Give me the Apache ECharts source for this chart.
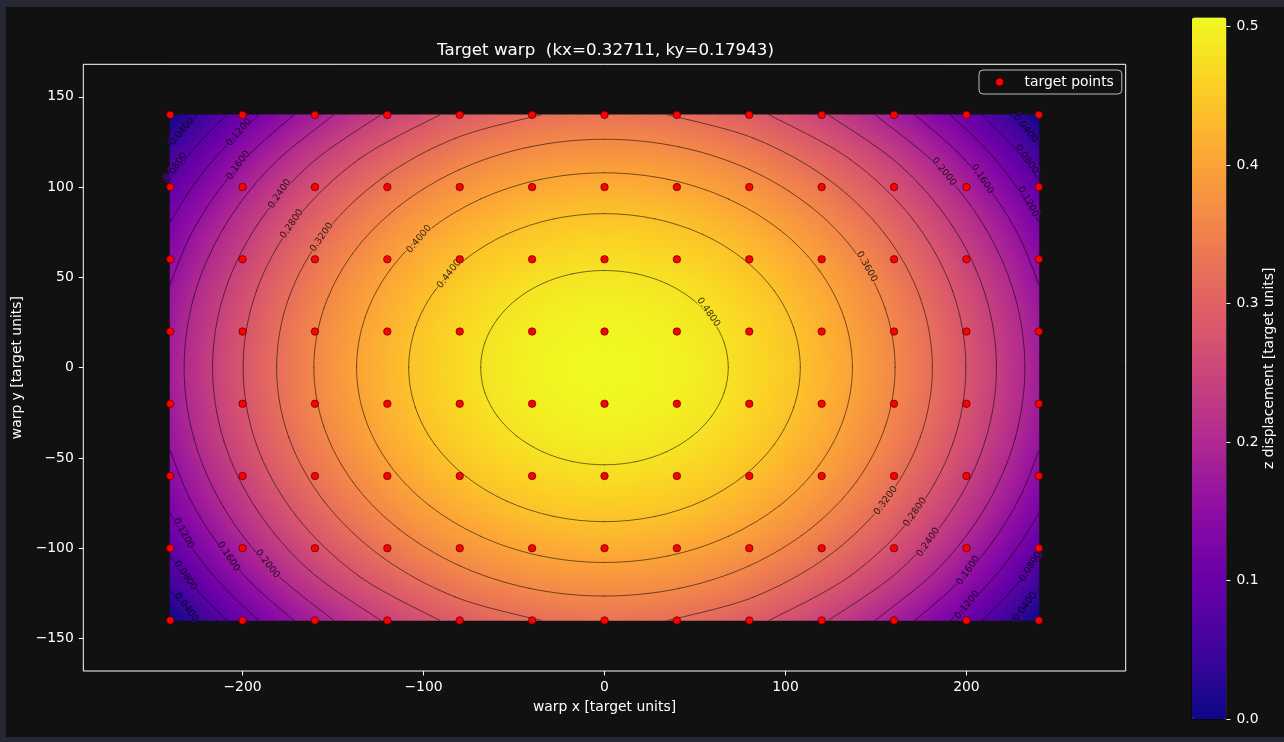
<!DOCTYPE html>
<html><head><meta charset="utf-8">
<script src="https://cdn.jsdelivr.net/npm/echarts@6/dist/echarts.min.js"></script>
<style>
html,body{margin:0;padding:0;background:#262833;width:1284px;height:742px;overflow:hidden}
#fig{position:absolute;left:6px;top:7px;width:1278px;height:730px;background:#111111}
</style></head><body><div id="fig"></div>
<script>
// ---------------- data ----------------
const chartTitle = 'Target warp  (kx=0.32711, ky=0.17943)';
const xAxisName = 'warp x [target units]';
const yAxisName = 'warp y [target units]';
const cbarName = 'z displacement [target units]';
const legendName = 'target points';
const xRange = [-288, 288];
const yRange = [-168, 168];
const zRange = [0, 0.50654];
const xTicks = [-200, -100, 0, 100, 200];
const yTicks = [-150, -100, -50, 0, 50, 100, 150];
const cbarTicks = [0, 0.1, 0.2, 0.3, 0.4, 0.5];

// heat-field cell centres and values (rows top -> bottom)
const xCenters = [-235,-225,-215,-205,-195,-185,-175,-165,-155,-145,-135,-125,-115,-105,-95,-85,-75,-65,-55,-45,-35,-25,-15,-5,5,15,25,35,45,55,65,75,85,95,105,115,125,135,145,155,165,175,185,195,205,215,225,235];
const yCenters = [135,125,115,105,95,85,75,65,55,45,35,25,15,5,-5,-15,-25,-35,-45,-55,-65,-75,-85,-95,-105,-115,-125,-135];
const zGrid = [
[.026,.052,.077,.101,.124,.145,.166,.185,.203,.220,.236,.251,.265,.277,.289,.299,.308,.316,.323,.328,.333,.336,.338,.340,.340,.338,.336,.333,.328,.323,.316,.308,.299,.289,.277,.265,.251,.236,.220,.203,.185,.166,.145,.124,.101,.077,.052,.026],
[.050,.076,.101,.125,.148,.169,.190,.209,.227,.244,.260,.275,.288,.301,.312,.323,.332,.340,.346,.352,.357,.360,.362,.363,.363,.362,.360,.357,.352,.346,.340,.332,.323,.312,.301,.288,.275,.260,.244,.227,.209,.190,.169,.148,.125,.101,.076,.050],
[.072,.098,.123,.147,.170,.191,.212,.231,.249,.266,.282,.297,.310,.323,.334,.345,.354,.362,.368,.374,.379,.382,.384,.385,.385,.384,.382,.379,.374,.368,.362,.354,.345,.334,.323,.310,.297,.282,.266,.249,.231,.212,.191,.170,.147,.123,.098,.072],
[.092,.118,.143,.167,.190,.211,.232,.251,.269,.286,.302,.317,.331,.343,.354,.365,.374,.382,.388,.394,.399,.402,.404,.405,.405,.404,.402,.399,.394,.388,.382,.374,.365,.354,.343,.331,.317,.302,.286,.269,.251,.232,.211,.190,.167,.143,.118,.092],
[.110,.136,.161,.185,.208,.230,.250,.269,.288,.305,.320,.335,.349,.361,.373,.383,.392,.400,.407,.412,.417,.420,.423,.424,.424,.423,.420,.417,.412,.407,.400,.392,.383,.373,.361,.349,.335,.320,.305,.288,.269,.250,.230,.208,.185,.161,.136,.110],
[.127,.153,.178,.202,.225,.246,.267,.286,.304,.321,.337,.352,.365,.378,.389,.399,.409,.416,.423,.429,.434,.437,.439,.440,.440,.439,.437,.434,.429,.423,.416,.409,.399,.389,.378,.365,.352,.337,.321,.304,.286,.267,.246,.225,.202,.178,.153,.127],
[.141,.168,.193,.216,.239,.261,.281,.300,.319,.336,.352,.366,.380,.392,.404,.414,.423,.431,.438,.444,.448,.452,.454,.455,.455,.454,.452,.448,.444,.438,.431,.423,.414,.404,.392,.380,.366,.352,.336,.319,.300,.281,.261,.239,.216,.193,.168,.141],
[.154,.180,.205,.229,.252,.274,.294,.313,.332,.349,.364,.379,.393,.405,.417,.427,.436,.444,.451,.456,.461,.464,.467,.468,.468,.467,.464,.461,.456,.451,.444,.436,.427,.417,.405,.393,.379,.364,.349,.332,.313,.294,.274,.252,.229,.205,.180,.154],
[.165,.191,.216,.240,.263,.285,.305,.324,.342,.359,.375,.390,.404,.416,.428,.438,.447,.455,.462,.467,.472,.475,.478,.479,.479,.478,.475,.472,.467,.462,.455,.447,.438,.428,.416,.404,.390,.375,.359,.342,.324,.305,.285,.263,.240,.216,.191,.165],
[.174,.201,.226,.249,.272,.294,.314,.333,.352,.369,.385,.399,.413,.425,.437,.447,.456,.464,.471,.477,.481,.485,.487,.488,.488,.487,.485,.481,.477,.471,.464,.456,.447,.437,.425,.413,.399,.385,.369,.352,.333,.314,.294,.272,.249,.226,.201,.174],
[.182,.208,.233,.257,.279,.301,.321,.341,.359,.376,.392,.407,.420,.433,.444,.454,.463,.471,.478,.484,.488,.492,.494,.495,.495,.494,.492,.488,.484,.478,.471,.463,.454,.444,.433,.420,.407,.392,.376,.359,.341,.321,.301,.279,.257,.233,.208,.182],
[.187,.213,.238,.262,.285,.307,.327,.346,.364,.381,.397,.412,.426,.438,.450,.460,.469,.477,.484,.489,.494,.497,.500,.501,.501,.500,.497,.494,.489,.484,.477,.469,.460,.450,.438,.426,.412,.397,.381,.364,.346,.327,.307,.285,.262,.238,.213,.187],
[.191,.217,.242,.266,.289,.310,.331,.350,.368,.385,.401,.416,.429,.442,.453,.464,.473,.481,.487,.493,.498,.501,.503,.504,.504,.503,.501,.498,.493,.487,.481,.473,.464,.453,.442,.429,.416,.401,.385,.368,.350,.331,.310,.289,.266,.242,.217,.191],
[.193,.219,.244,.268,.290,.312,.332,.352,.370,.387,.403,.418,.431,.444,.455,.465,.474,.482,.489,.495,.499,.503,.505,.506,.506,.505,.503,.499,.495,.489,.482,.474,.465,.455,.444,.431,.418,.403,.387,.370,.352,.332,.312,.290,.268,.244,.219,.193],
[.193,.219,.244,.268,.290,.312,.332,.352,.370,.387,.403,.418,.431,.444,.455,.465,.474,.482,.489,.495,.499,.503,.505,.506,.506,.505,.503,.499,.495,.489,.482,.474,.465,.455,.444,.431,.418,.403,.387,.370,.352,.332,.312,.290,.268,.244,.219,.193],
[.191,.217,.242,.266,.289,.310,.331,.350,.368,.385,.401,.416,.429,.442,.453,.464,.473,.481,.487,.493,.498,.501,.503,.504,.504,.503,.501,.498,.493,.487,.481,.473,.464,.453,.442,.429,.416,.401,.385,.368,.350,.331,.310,.289,.266,.242,.217,.191],
[.187,.213,.238,.262,.285,.307,.327,.346,.364,.381,.397,.412,.426,.438,.450,.460,.469,.477,.484,.489,.494,.497,.500,.501,.501,.500,.497,.494,.489,.484,.477,.469,.460,.450,.438,.426,.412,.397,.381,.364,.346,.327,.307,.285,.262,.238,.213,.187],
[.182,.208,.233,.257,.279,.301,.321,.341,.359,.376,.392,.407,.420,.433,.444,.454,.463,.471,.478,.484,.488,.492,.494,.495,.495,.494,.492,.488,.484,.478,.471,.463,.454,.444,.433,.420,.407,.392,.376,.359,.341,.321,.301,.279,.257,.233,.208,.182],
[.174,.201,.226,.249,.272,.294,.314,.333,.352,.369,.385,.399,.413,.425,.437,.447,.456,.464,.471,.477,.481,.485,.487,.488,.488,.487,.485,.481,.477,.471,.464,.456,.447,.437,.425,.413,.399,.385,.369,.352,.333,.314,.294,.272,.249,.226,.201,.174],
[.165,.191,.216,.240,.263,.285,.305,.324,.342,.359,.375,.390,.404,.416,.428,.438,.447,.455,.462,.467,.472,.475,.478,.479,.479,.478,.475,.472,.467,.462,.455,.447,.438,.428,.416,.404,.390,.375,.359,.342,.324,.305,.285,.263,.240,.216,.191,.165],
[.154,.180,.205,.229,.252,.274,.294,.313,.332,.349,.364,.379,.393,.405,.417,.427,.436,.444,.451,.456,.461,.464,.467,.468,.468,.467,.464,.461,.456,.451,.444,.436,.427,.417,.405,.393,.379,.364,.349,.332,.313,.294,.274,.252,.229,.205,.180,.154],
[.141,.168,.193,.216,.239,.261,.281,.300,.319,.336,.352,.366,.380,.392,.404,.414,.423,.431,.438,.444,.448,.452,.454,.455,.455,.454,.452,.448,.444,.438,.431,.423,.414,.404,.392,.380,.366,.352,.336,.319,.300,.281,.261,.239,.216,.193,.168,.141],
[.127,.153,.178,.202,.225,.246,.267,.286,.304,.321,.337,.352,.365,.378,.389,.399,.409,.416,.423,.429,.434,.437,.439,.440,.440,.439,.437,.434,.429,.423,.416,.409,.399,.389,.378,.365,.352,.337,.321,.304,.286,.267,.246,.225,.202,.178,.153,.127],
[.110,.136,.161,.185,.208,.230,.250,.269,.288,.305,.320,.335,.349,.361,.373,.383,.392,.400,.407,.412,.417,.420,.423,.424,.424,.423,.420,.417,.412,.407,.400,.392,.383,.373,.361,.349,.335,.320,.305,.288,.269,.250,.230,.208,.185,.161,.136,.110],
[.092,.118,.143,.167,.190,.211,.232,.251,.269,.286,.302,.317,.331,.343,.354,.365,.374,.382,.388,.394,.399,.402,.404,.405,.405,.404,.402,.399,.394,.388,.382,.374,.365,.354,.343,.331,.317,.302,.286,.269,.251,.232,.211,.190,.167,.143,.118,.092],
[.072,.098,.123,.147,.170,.191,.212,.231,.249,.266,.282,.297,.310,.323,.334,.345,.354,.362,.368,.374,.379,.382,.384,.385,.385,.384,.382,.379,.374,.368,.362,.354,.345,.334,.323,.310,.297,.282,.266,.249,.231,.212,.191,.170,.147,.123,.098,.072],
[.050,.076,.101,.125,.148,.169,.190,.209,.227,.244,.260,.275,.288,.301,.312,.323,.332,.340,.346,.352,.357,.360,.362,.363,.363,.362,.360,.357,.352,.346,.340,.332,.323,.312,.301,.288,.275,.260,.244,.227,.209,.190,.169,.148,.125,.101,.076,.050],
[.026,.052,.077,.101,.124,.145,.166,.185,.203,.220,.236,.251,.265,.277,.289,.299,.308,.316,.323,.328,.333,.336,.338,.340,.340,.338,.336,.333,.328,.323,.316,.308,.299,.289,.277,.265,.251,.236,.220,.203,.185,.166,.145,.124,.101,.077,.052,.026]
];

// target points grid
const pointXs = [-240, -200, -160, -120, -80, -40, 0, 40, 80, 120, 160, 200, 240];
const pointYs = [140, 100, 60, 20, -20, -60, -100, -140];

// contour paths (data units), one array of segments per level; closed rings end on their first point
const contour048 = [[[68.4,0],[66.1,13.9],[59.2,26.9],[48.4,38.0],[34.2,46.6],[17.7,52.0],[0,53.8],[-17.7,52.0],[-34.2,46.6],[-48.4,38.0],[-59.2,26.9],[-66.1,13.9],[-68.4,0],[-66.1,-13.9],[-59.2,-26.9],[-48.4,-38.0],[-34.2,-46.6],[-17.7,-52.0],[0,-53.8],[17.7,-52.0],[34.2,-46.6],[48.4,-38.0],[59.2,-26.9],[66.1,-13.9],[68.4,0]]];
const contour044 = [[[108.2,0],[104.5,22.1],[93.7,42.7],[76.5,60.3],[54.1,73.9],[28.0,82.4],[0,85.3],[-28.0,82.4],[-54.1,73.9],[-76.5,60.3],[-93.7,42.7],[-104.5,22.1],[-108.2,0],[-104.5,-22.1],[-93.7,-42.7],[-76.5,-60.3],[-54.1,-73.9],[-28.0,-82.4],[0,-85.3],[28.0,-82.4],[54.1,-73.9],[76.5,-60.3],[93.7,-42.7],[104.5,-22.1],[108.2,0]]];
const contour040 = [[[137.0,0],[132.3,27.9],[118.6,54.0],[96.9,76.3],[68.5,93.4],[35.5,104.2],[0,107.9],[-35.5,104.2],[-68.5,93.4],[-96.9,76.3],[-118.6,54.0],[-132.3,27.9],[-137.0,0],[-132.3,-27.9],[-118.6,-54.0],[-96.9,-76.3],[-68.5,-93.4],[-35.5,-104.2],[0,-107.9],[35.5,-104.2],[68.5,-93.4],[96.9,-76.3],[118.6,-54.0],[132.3,-27.9],[137.0,0]]];
const contour036 = [[[160.6,0],[155.1,32.7],[139.1,63.3],[113.6,89.4],[80.3,109.6],[41.6,122.2],[0,126.5],[-41.6,122.2],[-80.3,109.6],[-113.6,89.4],[-139.1,63.3],[-155.1,32.7],[-160.6,0],[-155.1,-32.7],[-139.1,-63.3],[-113.6,-89.4],[-80.3,-109.6],[-41.6,-122.2],[0,-126.5],[41.6,-122.2],[80.3,-109.6],[113.6,-89.4],[139.1,-63.3],[155.1,-32.7],[160.6,0]]];
const contour032 = [
  [[35.2,-140],[82.3,-127.1],[122.9,-104.9],[154.5,-74.6],[174.4,-38.8],[181.2,0],[174.4,38.8],[154.5,74.6],[122.9,104.9],[82.3,127.1],[35.2,140]],
  [[-35.2,-140],[-82.3,-127.1],[-122.9,-104.9],[-154.5,-74.6],[-174.4,-38.8],[-181.2,0],[-174.4,38.8],[-154.5,74.6],[-122.9,104.9],[-82.3,127.1],[-35.2,140]]];
const contour028 = [
  [[91.0,-140],[135.7,-115.4],[170.5,-82.0],[192.3,-42.6],[199.7,0],[192.3,42.6],[170.5,82.0],[135.7,115.4],[91.0,140]],
  [[-91.0,-140],[-135.7,-115.4],[-170.5,-82.0],[-192.3,-42.6],[-199.7,0],[-192.3,42.6],[-170.5,82.0],[-135.7,115.4],[-91.0,140]]];
const contour024 = [
  [[123.7,-140],[162.7,-112.6],[191.9,-79.0],[210.3,-40.7],[216.6,0],[210.3,40.7],[191.9,79.0],[162.7,112.6],[123.7,140]],
  [[-123.7,-140],[-162.7,-112.6],[-191.9,-79.0],[-210.3,-40.7],[-216.6,0],[-210.3,40.7],[-191.9,79.0],[-162.7,112.6],[-123.7,140]]];
const contour020 = [
  [[149.6,-140],[184.3,-111.4],[210.5,-77.3],[226.8,-39.6],[232.3,0],[226.8,39.6],[210.5,77.3],[184.3,111.4],[149.6,140]],
  [[-149.6,-140],[-184.3,-111.4],[-210.5,-77.3],[-226.8,-39.6],[-232.3,0],[-226.8,39.6],[-210.5,77.3],[-184.3,111.4],[-149.6,140]]];
const contour016 = [
  [[240,46.1],[229.3,72.3],[214.1,97.0],[194.9,119.5],[171.6,140]],
  [[-240,46.1],[-229.3,72.3],[-214.1,97.0],[-194.9,119.5],[-171.6,140]],
  [[-240,-46.1],[-229.3,-72.3],[-214.1,-97.0],[-194.9,-119.5],[-171.6,-140]],
  [[240,-46.1],[229.3,-72.3],[214.1,-97.0],[194.9,-119.5],[171.6,-140]]];
const contour012 = [
  [[240,80.6],[230.2,96.6],[218.8,111.9],[205.7,126.4],[191.0,140]],
  [[-240,80.6],[-230.2,96.6],[-218.8,111.9],[-205.7,126.4],[-191.0,140]],
  [[-240,-80.6],[-230.2,-96.6],[-218.8,-111.9],[-205.7,-126.4],[-191.0,-140]],
  [[240,-80.6],[230.2,-96.6],[218.8,-111.9],[205.7,-126.4],[191.0,-140]]];
const contour008 = [
  [[240,104.3],[225.5,122.8],[208.7,140]],
  [[-240,104.3],[-225.5,122.8],[-208.7,140]],
  [[-240,-104.3],[-225.5,-122.8],[-208.7,-140]],
  [[240,-104.3],[225.5,-122.8],[208.7,-140]]];
const contour004 = [
  [[240,123.4],[232.7,131.7],[224.8,140]],
  [[-240,123.4],[-232.7,131.7],[-224.8,140]],
  [[-240,-123.4],[-232.7,-131.7],[-224.8,-140]],
  [[240,-123.4],[232.7,-131.7],[224.8,-140]]];

// contour label anchors [x, y, text]
const contourLabels = [
  [-233.6,130.7,'0.0400'],[-237.0,111.0,'0.0800'],[-202.0,130.3,'0.1200'],[-202.4,112.1,'0.1600'],
  [-179.5,96.2,'0.2400'],[-172.8,79.6,'0.2800'],[-156.3,72.2,'0.3200'],[-102.5,71.2,'0.4000'],
  [-85.9,51.9,'0.4400'],[57.4,30.7,'0.4800'],[144.9,55.9,'0.3600'],
  [232.7,132.5,'0.0400'],[233.3,115.5,'0.0800'],[234.2,91.9,'0.1200'],[208.8,104.5,'0.1600'],[187.6,108.5,'0.2000'],
  [-232.7,-91.7,'0.1200'],[-231.6,-115.2,'0.0800'],[-231.1,-132.7,'0.0400'],[-207.9,-104.7,'0.1600'],[-186.3,-108.7,'0.2000'],
  [155.4,-73.7,'0.3200'],[171.6,-80.1,'0.2800'],[178.9,-96.7,'0.2400'],[201.0,-112.4,'0.1600'],[200.5,-131.4,'0.1200'],
  [235.5,-110.2,'0.0800'],[232.4,-132.4,'0.0400']
];

// ---------------- styling ----------------
const labelAngles = [51,57,49,54,56,55,55,50,53,-55,-61, -51,-55,-61,-57,-51, -61,-56,-54,-56,-52, 54,55,55,55,51,58,53];
const plasma = ['#0d0887','#41049d','#6a00a8','#8f0da4','#b12a90','#cc4778','#e16462','#f2844b','#fca636','#fcce25','#f0f921'];
const FONT = 'DejaVu Sans';
const TXT = '#ffffff';
const minus = v => String(v).replace('-', '\u2212');

// colour lookup for the shading (same stops as the colour bar)
const plasmaRGB = plasma.map(h => [parseInt(h.slice(1,3),16), parseInt(h.slice(3,5),16), parseInt(h.slice(5,7),16)]);
function cmap(z) {
  let t = (z - zRange[0]) / (zRange[1] - zRange[0]);
  t = Math.max(0, Math.min(1, t)) * (plasmaRGB.length - 1);
  const i = Math.min(plasmaRGB.length - 2, Math.floor(t)), f = t - i;
  const a = plasmaRGB[i], b = plasmaRGB[i + 1];
  return 'rgb(' + [0,1,2].map(k => Math.round(a[k] + (b[k] - a[k]) * f)).join(',') + ')';
}

const nRows = yCenters.length, nCols = xCenters.length;
const heatData = [];
zGrid.forEach((row, r) => row.forEach((z, c) => heatData.push([xCenters[c], yCenters[r], z])));
const halfW = (xCenters[1] - xCenters[0]) / 2;
const halfH = (yCenters[0] - yCenters[1]) / 2;
function slopeX(r, c) {
  const c0 = Math.max(0, c - 1), c1 = Math.min(nCols - 1, c + 1);
  return (zGrid[r][c1] - zGrid[r][c0]) / (xCenters[c1] - xCenters[c0]);
}
function slopeY(r, c) {
  const r0 = Math.max(0, r - 1), r1 = Math.min(nRows - 1, r + 1);
  return (zGrid[r1][c] - zGrid[r0][c]) / (yCenters[r1] - yCenters[r0]);
}

const pointData = [];
pointYs.forEach(y => pointXs.forEach(x => pointData.push([x, y])));

const contourSets = [contour004, contour008, contour012, contour016, contour020, contour024, contour028, contour032, contour036, contour040, contour044, contour048];
const contourSegs = [];
contourSets.forEach(set => set.forEach(seg => contourSegs.push(seg)));

// smooth stroke through the projected points (Catmull-Rom as cubic Béziers)
function smoothCurves(P, closed) {
  const n = P.length, out = [];
  const at = i => closed ? P[(i + n) % n] : P[Math.max(0, Math.min(n - 1, i))];
  const tan = i => { const a = at(i - 1), b = at(i + 1); return [(b[0] - a[0]) / 2, (b[1] - a[1]) / 2]; };
  const segs = closed ? n : n - 1;
  for (let i = 0; i < segs; i++) {
    const p0 = at(i), p1 = at(i + 1), t0 = tan(i), t1 = tan(i + 1);
    out.push({ type: 'bezierCurve',
      shape: { x1: p0[0], y1: p0[1], x2: p1[0], y2: p1[1],
        cpx1: p0[0] + t0[0] / 3, cpy1: p0[1] + t0[1] / 3,
        cpx2: p1[0] - t1[0] / 3, cpy2: p1[1] - t1[1] / 3 },
      style: { fill: null, stroke: '#000000', lineWidth: 0.6, opacity: 0.9, lineCap: 'round' } });
  }
  return out;
}

const chart = echarts.init(document.getElementById('fig'), null, { renderer: 'canvas' });
chart.setOption({
  animation: false,
  backgroundColor: '#111111',
  title: {
    text: chartTitle, left: 431, top: 35, padding: 0,
    textStyle: { color: TXT, fontSize: 16.7, fontWeight: 'normal', fontFamily: FONT }
  },
  legend: {
    data: [legendName], left: 973, top: 63, orient: 'vertical',
    padding: [5, 8, 5, 15], itemWidth: 30, itemHeight: 9, selectedMode: false,
    borderColor: '#bbbbbb', borderWidth: 1, borderRadius: 4,
    backgroundColor: 'rgba(17,17,17,0.8)',
    textStyle: { color: TXT, fontSize: 13.9, fontFamily: FONT, padding: [0, 0, 0, 5] }
  },
  grid: [
    { left: 77.3, top: 57.3, width: 1042.4, height: 606.7, show: true, borderColor: '#ffffff', borderWidth: 1, backgroundColor: 'transparent', containLabel: false, outerBoundsMode: 'none' },
    { left: 1186, top: 10.6, width: 34.4, height: 701.4, show: true, borderColor: '#000000', borderWidth: 1, backgroundColor: 'transparent', containLabel: false, outerBoundsMode: 'none' }
  ],
  xAxis: [
    { type: 'value', gridIndex: 0, min: xRange[0], max: xRange[1], position: 'bottom',
      axisLine: { show: false, onZero: false }, splitLine: { show: false },
      axisTick: { show: true, customValues: xTicks, length: 4.5, lineStyle: { color: TXT, width: 1 } },
      axisLabel: { customValues: xTicks, color: TXT, fontSize: 13.9, fontFamily: FONT, margin: 9.5, formatter: minus },
      name: xAxisName, nameLocation: 'middle', nameGap: 29,
      nameTextStyle: { color: TXT, fontSize: 13.9, fontFamily: FONT } },
    { type: 'value', gridIndex: 1, min: 0, max: 1, show: false, axisLine: { onZero: false } }
  ],
  yAxis: [
    { type: 'value', gridIndex: 0, min: yRange[0], max: yRange[1], position: 'left',
      axisLine: { show: false, onZero: false }, splitLine: { show: false },
      axisTick: { show: true, customValues: yTicks, length: 4.5, lineStyle: { color: TXT, width: 1 } },
      axisLabel: { customValues: yTicks, color: TXT, fontSize: 13.9, fontFamily: FONT, margin: 9.5, formatter: minus },
      name: yAxisName, nameLocation: 'middle', nameRotate: 90, nameGap: 55,
      nameTextStyle: { color: TXT, fontSize: 13.9, fontFamily: FONT } },
    { type: 'value', gridIndex: 1, position: 'right', min: zRange[0], max: zRange[1],
      axisLine: { show: false, onZero: false }, splitLine: { show: false },
      axisTick: { show: true, customValues: cbarTicks, length: 4, lineStyle: { color: TXT, width: 1 } },
      axisLabel: { customValues: cbarTicks, color: TXT, fontSize: 13.9, fontFamily: FONT, margin: 10, formatter: v => v.toFixed(1) },
      name: cbarName, nameLocation: 'middle', nameRotate: 90, nameGap: 35,
      nameTextStyle: { color: TXT, fontSize: 13.9, fontFamily: FONT } }
  ],
  visualMap: {
    type: 'continuous', seriesIndex: 0, dimension: 2, min: zRange[0], max: zRange[1],
    calculable: false, hoverLink: false, realtime: false,
    left: 1186, top: 10.6, padding: 0, itemWidth: 34.4, itemHeight: 701.4,
    inRange: { color: plasma }, textStyle: { color: TXT }
  },
  series: [
    { type: 'custom', name: 'z', xAxisIndex: 0, yAxisIndex: 0, data: heatData, clip: true, z: 1, silent: true,
      encode: { x: 0, y: 1 },
      renderItem: (params, api) => {
        const idx = params.dataIndex, r = Math.floor(idx / nCols), c = idx % nCols;
        const x = api.value(0), y = api.value(1), zc = api.value(2);
        const p0 = api.coord([x - halfW, y + halfH]);
        const p1 = api.coord([x + halfW, y - halfH]);
        const w = p1[0] - p0[0], h = p1[1] - p0[1];
        const cx = p0[0] + w / 2, cy = p0[1] + h / 2;
        const gx = slopeX(r, c) / (w / (2 * halfW));
        const gy = -slopeY(r, c) / (h / (2 * halfH));
        const m = Math.hypot(gx, gy);
        let fill = cmap(zc);
        if (m > 1e-7) {
          const ux = gx / m, uy = gy / m;
          const L = (w / 2) * Math.abs(ux) + (h / 2) * Math.abs(uy) + 0.5;
          const stops = [];
          for (let k = 0; k <= 4; k++) {
            const f = k / 4;
            stops.push({ offset: f, color: cmap(zc + m * L * (2 * f - 1)) });
          }
          fill = { type: 'linear', global: true,
            x: cx - ux * L, y: cy - uy * L, x2: cx + ux * L, y2: cy + uy * L, colorStops: stops };
        }
        return { type: 'rect',
          shape: { x: p0[0] - 0.4, y: p0[1] - 0.4, width: w + 0.8, height: h + 0.8 },
          style: { fill: fill } };
      } },
    { type: 'custom', name: 'contours', xAxisIndex: 0, yAxisIndex: 0, clip: true, z: 3, silent: true,
      data: contourSegs.map((s, i) => [s[0][0], s[0][1], i]),
      encode: { x: 0, y: 1 },
      renderItem: (params, api) => {
        const seg = contourSegs[params.dataIndex];
        const first = seg[0], last = seg[seg.length - 1];
        const closed = first[0] === last[0] && first[1] === last[1];
        const pts = (closed ? seg.slice(0, -1) : seg).map(p => api.coord(p));
        return { type: 'group', children: smoothCurves(pts, closed) };
      } },
    { type: 'scatter', name: 'contour labels', xAxisIndex: 0, yAxisIndex: 0, silent: true, z: 4, symbolSize: 0,
      data: contourLabels.map((d, i) => ({ value: [d[0], d[1]], name: d[2],
        label: { rotate: labelAngles[i], textBorderColor: cmap(parseFloat(d[2])), textBorderWidth: 3 } })),
      label: { show: true, position: 'inside', formatter: '{b}', color: '#000000', fontSize: 9.5, fontFamily: FONT } },
    { type: 'scatter', name: legendName, xAxisIndex: 0, yAxisIndex: 0, data: pointData, z: 5,
      symbol: 'circle', symbolSize: 7.5,
      itemStyle: { color: '#ff0000', borderColor: 'rgba(40,0,0,0.85)', borderWidth: 0.7, opacity: 1 } }
  ]
});
</script></body></html>
